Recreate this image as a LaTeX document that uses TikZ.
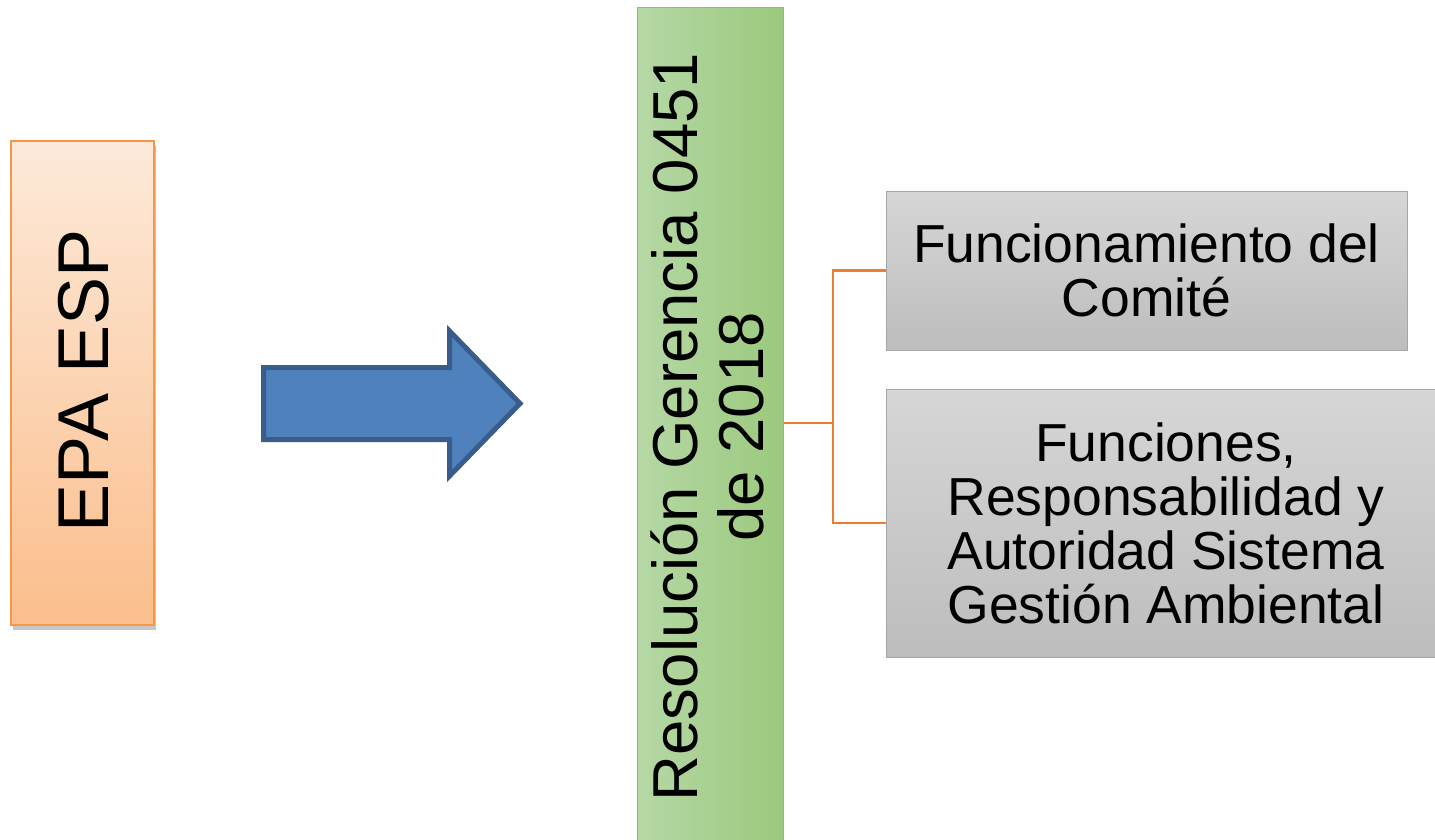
\documentclass[tikz,border=0pt]{standalone}
\usepackage{fontspec}
\setmainfont{Liberation Sans}
\usetikzlibrary{shadows}
\definecolor{orL}{HTML}{FDEADA}
\definecolor{orD}{HTML}{FBBE8C}
\definecolor{orB}{HTML}{F79646}
\definecolor{grL}{HTML}{B6D8A6}
\definecolor{grD}{HTML}{9BC97D}
\definecolor{grB}{HTML}{8DBE6E}
\definecolor{gyL}{HTML}{D6D6D6}
\definecolor{gyD}{HTML}{BDBDBD}
\definecolor{gyB}{HTML}{A6A6A6}
\definecolor{arF}{HTML}{4F81BD}
\definecolor{arB}{HTML}{385D8A}
\definecolor{conC}{HTML}{ED7D31}
\tikzset{
  epabox/.style={draw=orB, line width=2pt, top color=orL, bottom color=orD, inner sep=0pt,
    drop shadow={shadow xshift=2pt, shadow yshift=-5pt, opacity=0.4, fill=black!55}},
  resbox/.style={draw=grB, line width=1pt, left color=grL, right color=grD, inner sep=0pt},
  graybox/.style={draw=gyB, line width=1pt, top color=gyL, bottom color=gyD, align=center,
    font=\fontsize{53.5}{54}\selectfont, inner sep=0pt},
  bigarrow/.style={fill=arF, draw=arB, line width=5pt, line join=miter},
  conn/.style={draw=conC, line width=2.2pt}
}
\begin{document}
\begin{tikzpicture}[x=1pt,y=-1pt]
\useasboundingbox (0,0) rectangle (1435,839);
\clip (0,0) rectangle (1435,839);
\fill[white] (0,0) rectangle (1435,839);
% left box
\node[epabox, minimum width=143pt, minimum height=484pt] (epa) at (82.5,383) {};
\node[rotate=90, font=\fontsize{72}{72}\selectfont, inner sep=0pt] (epat) at (84,381) {EPA ESP};
% arrow
\draw[bigarrow] (263.5,367.5) -- (449.5,367.5) -- (449.5,331) -- (520,403.5) -- (449.5,476) -- (449.5,439.5) -- (263.5,439.5) -- cycle;
% green box
\node[resbox, minimum width=146pt, minimum height=840pt] (res) at (710,427) {};
\node[rotate=90, align=center, font=\fontsize{63.5}{66}\selectfont, inner sep=0pt] (rest) at (707,427) {Resolución Gerencia 0451\\de 2018};
% gray boxes
\node[graybox, minimum width=521pt, minimum height=159pt] (g1) at (1146.5,270.5) {Funcionamiento del\\Comité};
\node[graybox, minimum width=560pt, minimum height=268pt] (g2) at (1166,523) {Funciones,\\Responsabilidad y\\Autoridad Sistema\\Gestión Ambiental};
% connectors
\coordinate (j) at (833,423);
\draw[conn] (res.east |- j) -- (j);
\draw[conn] (g1.west) -| (j) |- (g2.west);
\end{tikzpicture}
\end{document}
